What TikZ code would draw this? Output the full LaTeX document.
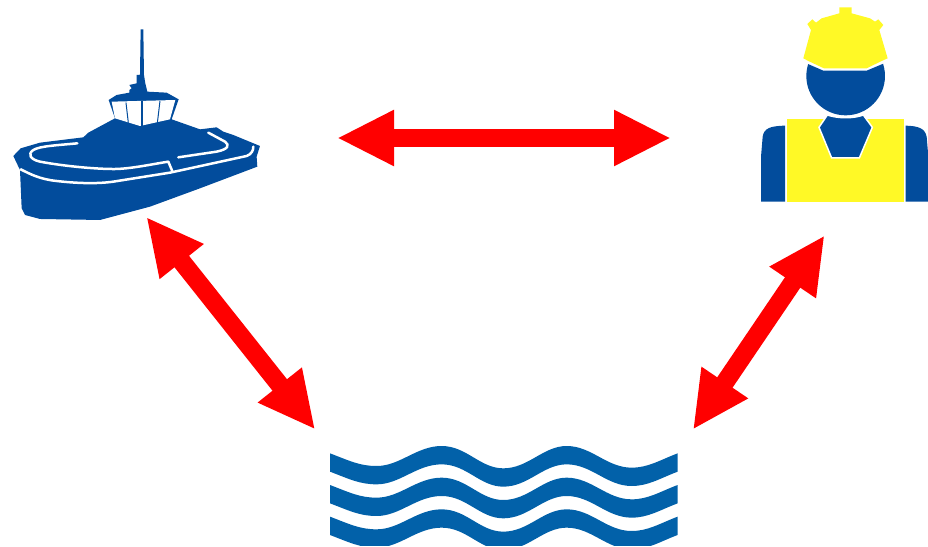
\documentclass[tikz,border=0pt]{standalone}
\usepackage{xcolor}
\usetikzlibrary{arrows.meta}
\definecolor{shipBlue}{HTML}{024C9C}
\definecolor{waterBlue}{HTML}{0261A9}
\definecolor{vestYellow}{HTML}{FFF926}
\tikzset{
  linkArrow/.style={red,line width=18.5pt,{Triangle[length=57pt,width=52pt]}-{Triangle[length=57pt,width=52pt]}},
  deckLine/.style={white,line width=2.5pt,line cap=round,line join=round},
  windowLine/.style={shipBlue,line width=1pt},
  zoomed/.style={x=0.3333pt,y=-0.3333pt}
}
\begin{document}
\begin{tikzpicture}[x=1pt,y=-1pt]
    \useasboundingbox (0,0) rectangle (928,546);
    % ship
    \begin{scope}[zoomed,shift={(0pt,-20pt)}]
      \fill[shipBlue] (422,28)--(430,28)--(432,165)--(436,190)--(442,215)--(500,218)--(536,238)--(515,298)--(600,328)--(650,322)--(670,335)--(700,345)--(780,378)--(770,410)--(772,440)--(600,505)--(450,560)--(300,600)--(120,597)--(75,585)--(65,565)--(60,450)--(40,408)--(62,385)--(120,368)--(250,352)--(265,338)--(345,295)--(326,240)--(350,225)--(388,218)--(388,210)--(395,205)--(388,195)--(410,190)--(410,165)--(420,165)--cycle;
      \fill[white] (335,245)--(526,240)--(510,298)--(420,318)--(345,295)--cycle;
      \draw[windowLine] (378,248)--(385,308);
      \draw[windowLine] (480,243)--(472,310);
      \draw[shipBlue,line width=2pt] (425,243)--(425,318);
      \draw[deckLine] (232,370) .. controls (170,376) and (120,378) .. (100,390) .. controls (82,402) and (90,418) .. (120,425) .. controls (200,440) and (300,448) .. (350,447) .. controls (400,445) and (460,432) .. (505,425)--(518,456);
      \draw[deckLine] (62,448) .. controls (90,462) and (120,478) .. (170,483) .. controls (230,490) and (290,492) .. (340,485)--(510,458)--(740,408) .. controls (755,402) and (760,392) .. (760,380);
      \draw[deckLine] (535,412)--(650,395) .. controls (685,388) and (690,375) .. (675,365)--(625,338);
    \end{scope}
    % worker
    \begin{scope}[zoomed,shift={(750pt,0pt)}]
      \fill[vestYellow] (268,22)--(305,22)--(305,40)--(360,55)--(375,65)--(385,58)--(400,75)--(388,90)--(413,175)--(395,183)--(350,205)--(222,205)--(175,183)--(160,175)--(183,90)--(172,72)--(187,58)--(198,68)--(215,55)--(268,40)--cycle;
      \begin{scope}
        \clip (160,186)--(220,212)--(350,212)--(412,186)--(412,350)--(160,350)--cycle;
        \fill[shipBlue] (287,228) circle [radius=118];
      \end{scope}
      \fill[vestYellow] (110,357) rectangle (462,605);
      \filldraw[shipBlue,draw=white,line width=1.5pt] (232,345) .. controls (265,356) and (310,356) .. (340,345)--(367,382)--(328,474)--(245,474)--(207,382)--cycle;
      \fill[shipBlue] (33,605)--(105,605)--(105,377) .. controls (60,378) and (42,385) .. (38,410)--(33,470)--cycle;
      \fill[shipBlue] (535,605)--(467,605)--(467,377) .. controls (505,378) and (525,385) .. (530,410)--(535,470)--cycle;
    \end{scope}
    % water
    \begin{scope}[zoomed,shift={(320pt,-436pt)}]
      \clip (0,0) rectangle (1100,330);
      \foreach \dy in {0,95,190}
        \fill[waterBlue,yshift=-\dy*0.3333pt] (30,52) .. controls (90,75) and (120,90) .. (170,90) .. controls (240,90) and (290,30) .. (365,30) .. controls (440,30) and (480,97) .. (550,97) .. controls (625,97) and (670,30) .. (740,30) .. controls (815,30) and (860,95) .. (935,95) .. controls (985,95) and (1020,72) .. (1073,52)--(1073,107) .. controls (1020,127) and (985,150) .. (935,150) .. controls (860,150) and (815,85) .. (740,85) .. controls (670,85) and (625,152) .. (550,152) .. controls (480,152) and (440,85) .. (365,85) .. controls (290,85) and (240,145) .. (170,145) .. controls (120,145) and (90,130) .. (30,107)--cycle;
    \end{scope}
    % links
    \coordinate (shipEnd) at (337,138);
    \coordinate (workerEnd) at (671,138);
    \coordinate (shipLow) at (146.3,216.9);
    \coordinate (waterLeft) at (315.2,429.6);
    \coordinate (workerLow) at (824.6,235.3);
    \coordinate (waterRight) at (692.9,429.7);
    \draw[linkArrow] (shipEnd)--(workerEnd);
    \draw[linkArrow] (shipLow)--(waterLeft);
    \draw[linkArrow] (workerLow)--(waterRight);
\end{tikzpicture}
\end{document}
